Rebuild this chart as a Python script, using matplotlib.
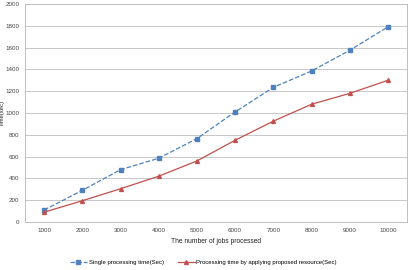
import numpy as np
import matplotlib
matplotlib.use('Agg')
import matplotlib.pyplot as plt

jobs = ['1000', '2000', '3000', '4000', '5000', '6000', '7000', '8000', '9000', '10000']
single_time = [110, 290, 480, 585, 765, 1010, 1235, 1385, 1575, 1790]
proposed_time = [90, 195, 305, 420, 560, 750, 925, 1080, 1180, 1300]

plt.rcParams['font.family'] = ['Liberation Sans', 'DejaVu Sans']

fig = plt.figure(figsize=(4.11, 2.70), dpi=100)
ax = fig.add_axes([25 / 411, 48 / 270, 382 / 411, 218 / 270])

x = np.arange(len(jobs))
ax.plot(x, single_time, color='#4F81BD', linestyle='--', linewidth=0.9,
        marker='s', markersize=2.5, label='Single processing time(Sec)')
ax.plot(x, proposed_time, color='#C0504D', linestyle='-', linewidth=0.9,
        marker='^', markersize=2.8, label='Processing time by applying proposed resource(Sec)')

ax.set_xlim(-0.5, len(jobs) - 0.5)
ax.set_ylim(0, 2000)
ax.set_yticks(range(0, 2001, 200))
ax.set_xticks(x)
ax.set_xticklabels(jobs)
ax.tick_params(labelsize=4.5, length=0, colors='#444444', pad=4)
ax.yaxis.grid(True, color='#BFBFBF', linewidth=0.6)
ax.set_axisbelow(True)
for s in ax.spines.values():
    s.set_color('#BFBFBF')
    s.set_linewidth(0.7)

ax.set_xlabel('The number of jobs processed', fontsize=4.8, color='#222222', labelpad=4)
ax.set_ylabel('Time(sec)', fontsize=4.2, color='#222222')
ax.yaxis.set_label_coords(-20 / 382, 0.5)

fig.legend(loc='lower center', bbox_to_anchor=(0.495, 0.0), ncol=2, frameon=False,
           fontsize=4.3, handlelength=2.8, handletextpad=0.3, columnspacing=2.4)

fig.savefig('out.png', dpi=100)
